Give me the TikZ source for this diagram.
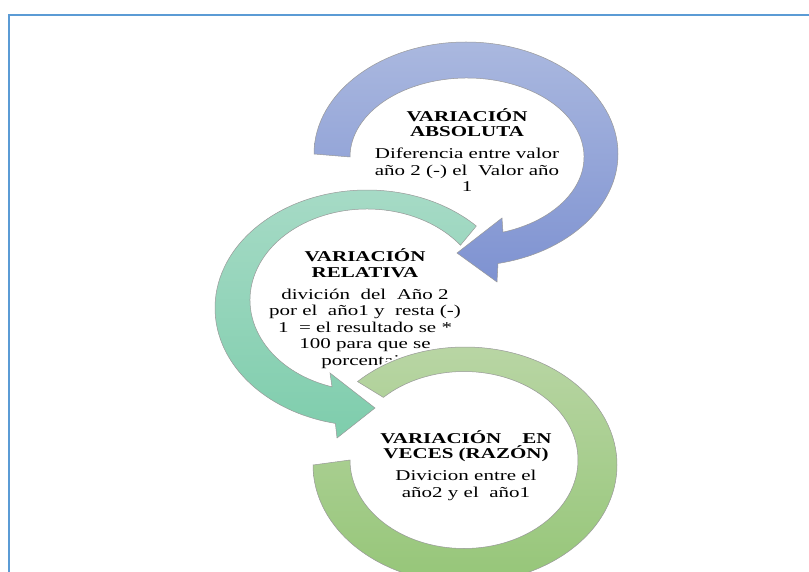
\documentclass[tikz,border=0pt]{standalone}
\usepackage{fontspec}
\setmainfont{Liberation Serif}

\definecolor{frameblue}{RGB}{91,155,213}
\definecolor{blueTop}{RGB}{170,184,223}
\definecolor{blueBot}{RGB}{126,146,209}
\definecolor{tealTop}{RGB}{168,219,199}
\definecolor{tealBot}{RGB}{126,205,172}
\definecolor{greenTop}{RGB}{186,214,166}
\definecolor{greenBot}{RGB}{148,197,118}

\begin{document}
\begin{tikzpicture}[x=1pt, y=-1pt,
  ring/.style={draw=black!40, line width=0.5pt, preaction={draw=white, line width=4pt}},
  txtbox/.style={align=center, font=\fontsize{15}{16.5}\selectfont, inner sep=0pt, xscale=1.4, transform shape}]
  % Page and frame
  \useasboundingbox (0,0) rectangle (809,572);
  \fill[white] (0,0) rectangle (809,572);
  \clip (0,0) rectangle (809,572);
  \draw[frameblue, line width=2pt] (809,15) -- (9,15) -- (9,572);

  % First ring: absolute variation
  \shade[ring, top color=blueTop, bottom color=blueBot]
    ([shift={(180:152 and 112)}]466,154)
    arc[start angle=180, end angle=437.85, x radius=152, y radius=112]
    -- (497,282) -- (457,253) -- (502,218)
    -- ([shift={(432.1:117 and 79)}]467,157)
    arc[start angle=432.1, end angle=180, x radius=117, y radius=79]
    -- cycle;
  \node[txtbox, anchor=base] (absoluta) at (467,192)
    {\textbf{VARIACIÓN}\\[-1pt]\textbf{ABSOLUTA}\\[5.5pt]Diferencia entre valor\\año 2 (-) el\ \ Valor año\\1};

  % Second ring: relative variation
  \shade[ring, top color=tealTop, bottom color=tealBot]
    ([shift={(-44:152 and 118)}]367,308)
    arc[start angle=-44, end angle=-258, x radius=152, y radius=118]
    -- (337,438) -- (375,408) -- (330,373)
    -- ([shift={(-252.6:117 and 91)}]367,300)
    arc[start angle=-252.6, end angle=-37, x radius=117, y radius=91]
    -- cycle;
  \node[txtbox, anchor=base] (relativa) at (365,365)
    {\textbf{VARIACIÓN}\\[-1pt]\textbf{RELATIVA}\\[5.5pt]divición\ \ del\ \ Año 2\\por el\ \ año1 y\ \ resta (-)\\1\ \ = el resultado se *\\100 para que se\\porcentaje};

  % Third ring: variation in times
  \shade[ring, top color=greenTop, bottom color=greenBot]
    ([shift={(-135:152 and 118)}]465,465)
    arc[start angle=-135, end angle=180, x radius=152, y radius=118]
    -- ([shift={(180:114 and 88.5)}]464,460)
    arc[start angle=180, end angle=-135, x radius=114, y radius=88.5]
    -- cycle;
  \node[txtbox, anchor=base] (razon) at (466,497)
    {\textbf{VARIACIÓN\hspace{1em}EN}\\[-1pt]\textbf{VECES (RAZÓN)}\\[5.5pt]Divicion entre el\\año2 y el\ \ año1};
\end{tikzpicture}
\end{document}
